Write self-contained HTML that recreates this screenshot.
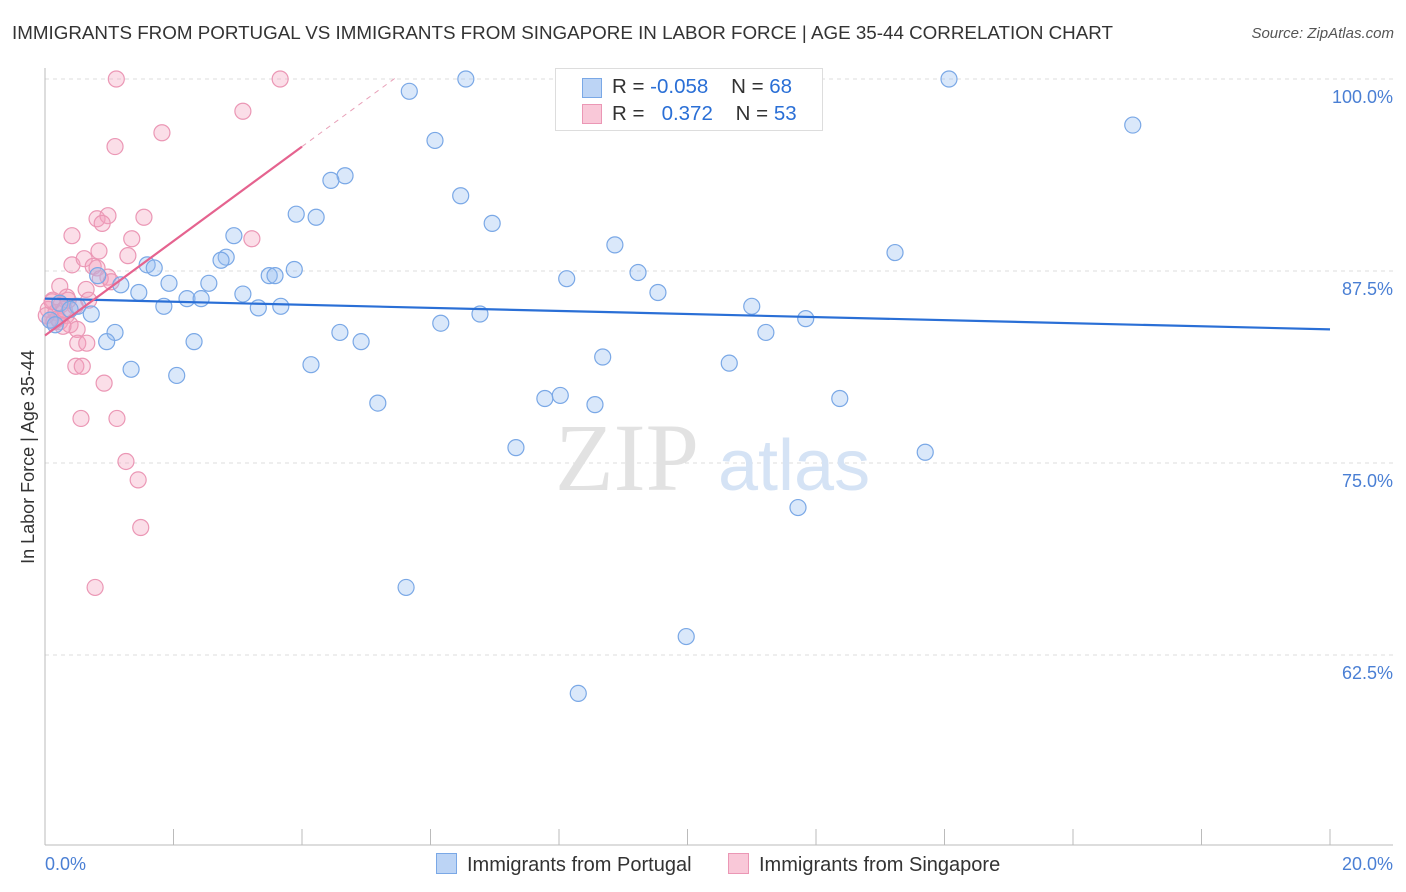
<!DOCTYPE html>
<html><head><meta charset="utf-8">
<style>
body{margin:0;background:#fff;font-family:"Liberation Sans",sans-serif;}
#wrap{position:relative;width:1406px;height:892px;overflow:hidden;}
.t{position:absolute;white-space:nowrap;}
</style></head>
<body>
<div id="wrap">
<div class="t" style="left:12px;top:22px;font-size:18.8px;color:#333;">IMMIGRANTS FROM PORTUGAL VS IMMIGRANTS FROM SINGAPORE IN LABOR FORCE | AGE 35-44 CORRELATION CHART</div>
<div class="t" style="right:12px;top:25px;font-size:15px;color:#555;font-style:italic;">Source: ZipAtlas.com</div>
<svg id="plot" width="1406" height="892" style="position:absolute;left:0;top:0"></svg>
</div>
<script>
const xTicks=[0,20];
const yTicks=[100,87.5,75,62.5];
const portX=[6.55,14.07,9.10,5.67,16.93,6.07,6.47,4.67,4.45,3.91,4.22,6.96,2.94,8.87,13.23,2.82,2.74,1.59,1.70,3.88,3.49,3.58,9.23,8.12,0.82,2.55,1.18,1.93,1.46,9.54,2.21,2.43,3.08,3.32,3.67,1.85,0.51,0.72,11.0,6.77,6.16,11.84,1.09,4.59,11.22,0.96,2.32,4.92,8.68,4.14,10.65,1.34,2.05,5.18,7.78,8.02,8.56,12.37,7.33,13.70,11.72,5.62,9.98,8.30,0.23,0.39,0.08,0.16];
const portY=[100,100,100,99.2,97.0,96.0,92.4,93.7,93.4,91.2,91.0,90.6,89.8,89.2,88.7,88.4,88.2,87.9,87.7,87.6,87.2,87.2,87.4,87.0,87.2,86.7,86.6,86.7,86.1,86.1,85.7,85.7,86.0,85.1,85.2,85.2,85.2,84.7,85.2,84.7,84.1,84.4,83.5,83.5,83.5,82.9,82.9,82.9,81.9,81.4,81.5,81.1,80.7,78.9,79.2,79.4,78.8,79.2,76.0,75.7,72.1,66.9,63.7,60.0,85.4,85.0,84.3,84.0];
const singX=[1.11,3.66,3.08,1.82,1.09,1.54,0.81,0.98,0.89,0.42,1.35,3.22,0.84,1.29,0.42,0.61,0.75,0.81,0.98,0.86,1.03,0.64,0.23,0.34,0.12,0.68,0.25,0.47,0.05,0.17,0.33,0.08,0.23,0.39,0.50,0.28,0.14,0.51,0.65,0.48,0.58,0.92,0.56,1.12,1.26,1.45,1.49,0.78,0.11,0.20,0.30,0.02,0.36];
const singY=[100,100,97.9,96.5,95.6,91.0,90.9,91.1,90.6,89.8,89.6,89.6,88.8,88.5,87.9,88.3,87.8,87.7,87.1,87.0,86.8,86.3,86.5,85.8,85.6,85.6,85.3,85.2,85.0,84.8,84.6,84.3,84.2,84.0,83.7,83.9,84.2,82.8,82.8,81.3,81.3,80.2,77.9,77.9,75.1,73.9,70.8,66.9,85.5,84.4,85.0,84.6,85.6];
const portTrend=[85.7,83.7];
const singTrend=[83.3,95.6];
const singTrendDashEnd=5.5;

const X0=45,X1=1330,Y100=79,YPER=15.36;
const xs=v=>X0+(X1-X0)*v/20;
const ys=v=>Y100+(100-v)*YPER;
const svg=document.getElementById('plot');
const NS='http://www.w3.org/2000/svg';
function mk(tag,attrs){const e=document.createElementNS(NS,tag);for(const k in attrs)e.setAttribute(k,attrs[k]);svg.appendChild(e);return e;}

yTicks.forEach(v=>{
 const g=mk('line',{x1:X0,x2:1393,y1:ys(v),y2:ys(v),stroke:'#ddd','stroke-dasharray':'4,4'});
 
 
 const t=mk('text',{x:1393,y:ys(v)+24,'text-anchor':'end','font-size':18,fill:'#4a7fd4','font-family':'Liberation Sans, sans-serif'});
 t.textContent=v.toFixed(1)+'%';
 
 
});
let a=mk('line',{x1:X0,x2:X0,y1:68,y2:845,stroke:'#bbb'});


a=mk('line',{x1:X0,x2:1393,y1:845,y2:845,stroke:'#bbb'});


for(let i=0;i<=10;i++){
 const tk=mk('line',{x1:xs(i*2),x2:xs(i*2),y1:829,y2:845,stroke:'#bbb'});
 
 
}
xTicks.forEach((v,i)=>{
 const t=mk('text',{x:i===0?45:1393,y:870,'text-anchor':i===0?'start':'end','font-size':18,fill:'#4a7fd4','font-family':'Liberation Sans, sans-serif'});
 t.textContent=v.toFixed(1)+'%';
 
 
});
let yt=mk('text',{x:0,y:0,transform:'translate(34,457) rotate(-90)','text-anchor':'middle','font-size':18,fill:'#333','font-family':'Liberation Sans, sans-serif'});
yt.textContent='In Labor Force | Age 35-44';


let wm=mk('text',{x:555,y:490,'font-size':96,fill:'#e2e2e2','font-family':'Liberation Serif, serif'});
wm.textContent='ZIP';


wm=mk('text',{x:718,y:490,'font-size':72,fill:'#d5e3f5','font-family':'Liberation Sans, sans-serif'});
wm.textContent='atlas';



singX.forEach((v,i)=>{
 const c=mk('circle',{cx:xs(v),cy:ys(singY[i]),r:8,fill:'rgba(244,160,190,0.35)',stroke:'#eb97b5','stroke-width':1.2});
 
 
});
portX.forEach((v,i)=>{
 const c=mk('circle',{cx:xs(v),cy:ys(portY[i]),r:8,fill:'rgba(150,190,240,0.35)',stroke:'#7aa8e6','stroke-width':1.2});
 
 
});
let l=mk('line',{x1:xs(0),y1:ys(portTrend[0]),x2:xs(20),y2:ys(portTrend[1]),stroke:'#2a6fd6','stroke-width':2.2});


l=mk('line',{x1:xs(0),y1:ys(singTrend[0]),x2:xs(4),y2:ys(singTrend[1]),stroke:'#e5638f','stroke-width':2.2});


const slope=(singTrend[1]-singTrend[0])/4;
l=mk('line',{x1:xs(4),y1:ys(singTrend[1]),x2:xs(singTrendDashEnd),y2:ys(singTrend[0]+slope*singTrendDashEnd),stroke:'#e8a0b8','stroke-width':1,'stroke-dasharray':'5,5'});


</script>
<div class="t" style="left:555px;top:68px;width:266px;height:61px;border:1px solid #ddd;background:#fff;font-size:20.5px;">
 <div style="position:absolute;left:26px;top:9px;width:18px;height:18px;background:#bcd4f5;border:1px solid #7aa8e6;"></div>
 <div style="position:absolute;left:56px;top:6px;color:#333;">R = <span style="color:#2a6fd6">-0.058</span>&nbsp;&nbsp;&nbsp; N = <span style="color:#2a6fd6">68</span></div>
 <div style="position:absolute;left:26px;top:35px;width:18px;height:18px;background:#f9c8d8;border:1px solid #eb97b5;"></div>
 <div style="position:absolute;left:56px;top:33px;color:#333;">R = &nbsp;&nbsp;<span style="color:#2a6fd6">0.372</span>&nbsp;&nbsp;&nbsp; N = <span style="color:#2a6fd6">53</span></div>
</div>
<div class="t" style="left:436px;top:853px;font-size:20px;color:#333;">
 <span style="display:inline-block;width:19px;height:19px;background:#bcd4f5;border:1px solid #7aa8e6;vertical-align:-3px;margin-right:10px;"></span>Immigrants from Portugal</div>
<div class="t" style="left:728px;top:853px;font-size:20px;color:#333;">
 <span style="display:inline-block;width:19px;height:19px;background:#f9c8d8;border:1px solid #eb97b5;vertical-align:-3px;margin-right:10px;"></span>Immigrants from Singapore</div>
</body></html>
